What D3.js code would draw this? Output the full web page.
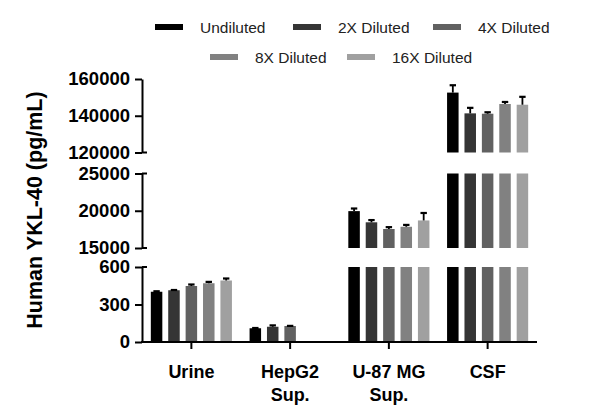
<!DOCTYPE html>
<html>
<head>
<meta charset="utf-8">
<script src="https://cdn.jsdelivr.net/npm/d3@7"></script>
<style>
  html, body { margin: 0; padding: 0; background: #fff; }
  svg { display: block; }
</style>
</head>
<body>
<svg id="chart" width="600" height="419"></svg>
<script>
// ---- data ----
const categories = ["Urine", "HepG2 Sup.", "U-87 MG Sup.", "CSF"];
const series = ["Undiluted", "2X Diluted", "4X Diluted", "8X Diluted", "16X Diluted"];
const urine = [402, 414, 448, 470, 492];
const urineErr = [4, 2, 12, 11, 16];
const hepg2 = [110, 122, 128, null, null];
const hepg2Err = [2, 11, 1, null, null];
const u87 = [19950, 18450, 17550, 17850, 18700];
const u87Err = [350, 300, 250, 250, 1000];
const csf = [152600, 141300, 141100, 146400, 146000];
const csfErr = [4000, 3000, 800, 1100, 4300];
const ticksLow = [0, 300, 600];
const ticksMid = [15000, 20000, 25000];
const ticksHigh = [120000, 140000, 160000];
const colors = ["#000000", "#353535", "#616161", "#818181", "#a0a0a0"];

const values = [urine, hepg2, u87, csf];
const errors = [urineErr, hepg2Err, u87Err, csfErr];

// ---- layout ----
const svg = d3.select("#chart");
const axisX = 142, baseY = 342;

const segments = [
  { ticks: ticksLow,  range: [342, 267] },
  { ticks: ticksMid,  range: [248, 173.5] },
  { ticks: ticksHigh, range: [152.5, 79] }
].map(s => {
  s.domain = [s.ticks[0], s.ticks[s.ticks.length - 1]];
  s.scale = d3.scaleLinear().domain(s.domain).range(s.range);
  return s;
});

const x0 = d3.scaleBand().domain(categories).range([142, 537]).padding(0);
const x1 = d3.scaleBand().domain(series).range([0, x0.bandwidth()])
  .paddingInner(0.339).paddingOuter(0.507);
const color = d3.scaleOrdinal().domain(series).range(colors);

// bars
const gBars = svg.append("g");
categories.forEach((c, ci) => {
  series.forEach((s, si) => {
    const v = values[ci][si];
    if (v == null) return;
    segments.forEach(seg => {
      if (v <= seg.domain[0]) return;
      const top = seg.scale(Math.min(v, seg.domain[1]));
      const bot = seg.scale(seg.domain[0]);
      gBars.append("rect")
        .attr("x", x0(c) + x1(s))
        .attr("y", top)
        .attr("width", x1.bandwidth())
        .attr("height", bot - top)
        .attr("fill", color(s));
    });
    // error bar (upward)
    const e = errors[ci][si];
    if (e == null) return;
    const seg = segments.find(sg => v >= sg.domain[0] && v <= sg.domain[1]);
    if (!seg) return;
    const cx = x0(c) + x1(s) + x1.bandwidth() / 2;
    const y1 = seg.scale(v), y2 = seg.scale(v + e);
    gBars.append("line").attr("x1", cx).attr("x2", cx).attr("y1", y1).attr("y2", y2)
      .attr("stroke", "#000").attr("stroke-width", 1.8);
    gBars.append("line").attr("x1", cx - 3.2).attr("x2", cx + 3.2).attr("y1", y2).attr("y2", y2)
      .attr("stroke", "#000").attr("stroke-width", 2.2);
  });
});

// y axes (segments)
segments.forEach((seg, i) => {
  const g = svg.append("g").attr("transform", `translate(${axisX},0)`)
    .call(d3.axisLeft(seg.scale).tickValues(seg.ticks).tickFormat(d3.format("d"))
      .tickSize(7).tickSizeOuter(0).tickPadding(5));
  g.select(".domain").attr("stroke", "#000").attr("stroke-width", 2);
  g.selectAll(".tick line").attr("stroke", "#000").attr("stroke-width", 2);
  g.selectAll(".tick text")
    .attr("font-family", "'Liberation Sans', Arial, sans-serif")
    .attr("font-weight", "bold").attr("font-size", "18.5px").attr("fill", "#000");
  // break caps extending right
  const ends = [];
  if (i > 0) ends.push(seg.domain[0]);
  if (i < segments.length - 1) ends.push(seg.domain[1]);
  ends.forEach(v => {
    g.append("line").attr("x1", 0).attr("x2", 5)
      .attr("y1", seg.scale(v)).attr("y2", seg.scale(v))
      .attr("stroke", "#000").attr("stroke-width", 2);
  });
});

// x axis
const gx = svg.append("g").attr("transform", `translate(0,${baseY})`)
  .call(d3.axisBottom(x0).tickSize(7).tickSizeOuter(0).tickPadding(16));
gx.select(".domain").attr("stroke", "#000").attr("stroke-width", 2)
  .attr("d", `M${axisX - 1},0H537`);
gx.selectAll(".tick line").attr("stroke", "#000").attr("stroke-width", 2);
gx.selectAll(".tick text")
  .attr("font-family", "'Liberation Sans', Arial, sans-serif")
  .attr("font-weight", "bold").attr("font-size", "18px").attr("fill", "#000")
  .each(function(d) {
    const t = d3.select(this);
    const parts = d.endsWith(" Sup.") ? [d.slice(0, -5), "Sup."] : [d];
    t.text(null);
    parts.forEach((p, k) => {
      t.append("tspan").attr("x", 0).attr("dy", k === 0 ? "0.71em" : "1.3em").text(p);
    });
  });

// y title
svg.append("text")
  .attr("transform", "translate(42,210) rotate(-90)")
  .attr("text-anchor", "middle")
  .attr("font-family", "'Liberation Sans', Arial, sans-serif")
  .attr("font-weight", "bold").attr("font-size", "21.5px").attr("fill", "#000")
  .text("Human YKL-40 (pg/mL)");

// legend
const legendPos = [[155, 27], [293, 27], [433, 27], [210, 57], [347, 57]];
const gl = svg.append("g");
series.forEach((s, i) => {
  const [lx, ly] = legendPos[i];
  gl.append("rect").attr("x", lx).attr("y", ly - 3).attr("width", 28).attr("height", 6)
    .attr("fill", color(s));
  gl.append("text").attr("x", lx + 45).attr("y", ly + 6)
    .attr("font-family", "'Liberation Sans', Arial, sans-serif")
    .attr("font-size", "15.5px").attr("fill", "#222")
    .text(s);
});
</script>
</body>
</html>
